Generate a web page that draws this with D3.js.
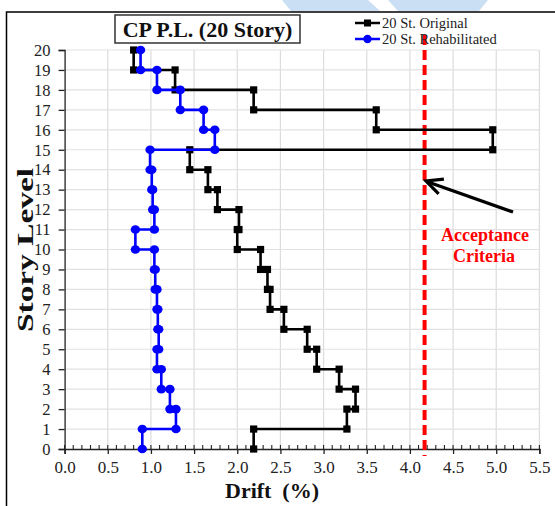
<!DOCTYPE html>
<html>
<head>
<meta charset="utf-8">
<script src="https://cdn.jsdelivr.net/npm/d3@7"></script>
<style>
  html, body { margin: 0; padding: 0; background: #fff; }
  svg { display: block; }
  text { font-family: "Liberation Serif", "Times New Roman", serif; }
</style>
</head>
<body>
<svg id="chart" width="555" height="506"></svg>
<script>
// Story numbers (storey drift applies between level-1 and level)
const stories = [20, 19, 18, 17, 16, 15, 14, 13, 12, 11, 10, 9, 8, 7, 6, 5, 4, 3, 2, 1];
// Interstory drift (%) per story, original frame
const originalDrift = [0.80, 1.28, 2.19, 3.61, 4.96, 1.45, 1.66, 1.77, 2.02, 2.00,
                       2.27, 2.35, 2.38, 2.54, 2.81, 2.92, 3.18, 3.37, 3.27, 2.19];
// Interstory drift (%) per story, rehabilitated frame
const rehabDrift = [0.88, 1.07, 1.34, 1.61, 1.74, 0.99, 1.01, 1.02, 1.04, 0.82,
                    1.04, 1.05, 1.07, 1.08, 1.09, 1.07, 1.12, 1.22, 1.29, 0.90];
const acceptanceLimit = 4.17;
const xTicks = [0.0, 0.5, 1.0, 1.5, 2.0, 2.5, 3.0, 3.5, 4.0, 4.5, 5.0, 5.5];
const yTicks = d3.range(0, 21);
const seriesNames = ["20 St. Original", "20 St. Rehabilitated"];

const svg = d3.select("#chart");

// light blue smudges along the top edge of the page
svg.append("path")
  .attr("d", "M282,0 L368,0 L380,11 L291,11 Z M388,0 L488,0 L479,11 L398,11 Z")
  .attr("fill", "#cbdff4");

// outer frame
svg.append("path")
  .attr("d", "M6.5,506 L6.5,12 L555,12")
  .attr("fill", "none").attr("stroke", "#000").attr("stroke-width", 1.5);

const x = d3.scaleLinear().domain([0, 5.5]).range([64.6, 539.4]);
const y = d3.scaleLinear().domain([0, 20]).range([449, 50]);

// gridlines
svg.append("g").selectAll("line.v").data(xTicks.slice(1)).join("line")
  .attr("x1", d => x(d)).attr("x2", d => x(d))
  .attr("y1", y(0)).attr("y2", y(20))
  .attr("stroke", "#dcdcdc").attr("stroke-width", 1.2);
svg.append("g").selectAll("line.h").data(yTicks.slice(1)).join("line")
  .attr("x1", x(0)).attr("x2", x(5.5))
  .attr("y1", d => y(d)).attr("y2", d => y(d))
  .attr("stroke", "#e2e2e2").attr("stroke-width", 1.2);

// y axis
const yAxis = svg.append("g").attr("transform", `translate(${x(0)},0)`)
  .call(d3.axisLeft(y).tickValues(yTicks).tickSize(6).tickPadding(8).tickFormat(d3.format("d")));
yAxis.select(".domain").attr("stroke", "#222").attr("stroke-width", 1.3);
yAxis.selectAll(".tick line").attr("stroke", "#222").attr("stroke-width", 1.3);
yAxis.selectAll("text").attr("font-size", 16.5).attr("fill", "#222")
  .style("font-family", "'Liberation Serif', serif");

// x axis: minor ticks inward every 0.1, major ticks outward every 0.5
const minor = d3.range(0, 56).map(i => i / 10);
svg.append("g").selectAll("line").data(minor).join("line")
  .attr("x1", d => x(d)).attr("x2", d => x(d))
  .attr("y1", y(0)).attr("y2", y(0) - 4)
  .attr("stroke", "#222").attr("stroke-width", 1.1);
const xAxis = svg.append("g").attr("transform", `translate(0,${y(0)})`)
  .call(d3.axisBottom(x).tickValues(xTicks).tickSize(5).tickPadding(7).tickFormat(d3.format(".1f")));
xAxis.select(".domain").attr("stroke", "#222").attr("stroke-width", 1.5);
xAxis.selectAll(".tick line").attr("stroke", "#222").attr("stroke-width", 1.3);
xAxis.selectAll("text").attr("font-size", 17).attr("fill", "#222")
  .style("font-family", "'Liberation Serif', serif");

// step profile points: each story's drift spans from its level down to the level below
function profile(drifts) {
  const pts = [];
  stories.forEach((s, i) => { pts.push([drifts[i], s]); pts.push([drifts[i], s - 1]); });
  return pts;
}
const line = d3.line().x(d => x(d[0])).y(d => y(d[1]));

// acceptance criteria
svg.append("line")
  .attr("x1", x(acceptanceLimit)).attr("x2", x(acceptanceLimit))
  .attr("y1", 35).attr("y2", 456)
  .attr("stroke", "#ff0000").attr("stroke-width", 4)
  .attr("stroke-dasharray", "10,5");

const orig = profile(originalDrift);
const rehab = profile(rehabDrift);

svg.append("path").datum(orig).attr("d", line)
  .attr("fill", "none").attr("stroke", "#000").attr("stroke-width", 2.6);
svg.append("g").selectAll("rect").data(orig).join("rect")
  .attr("x", d => x(d[0]) - 3.6).attr("y", d => y(d[1]) - 3.6)
  .attr("width", 7.2).attr("height", 7.2).attr("fill", "#000");

svg.append("path").datum(rehab).attr("d", line)
  .attr("fill", "none").attr("stroke", "#0000ff").attr("stroke-width", 2.6);
svg.append("g").selectAll("ellipse").data(rehab).join("ellipse")
  .attr("cx", d => x(d[0])).attr("cy", d => y(d[1]))
  .attr("rx", 4.7).attr("ry", 4.3).attr("fill", "#0000ff");

// title box
svg.append("rect").attr("x", 115).attr("y", 15).attr("width", 185).attr("height", 28)
  .attr("fill", "#fff").attr("stroke", "#333").attr("stroke-width", 1.5);
svg.append("text").attr("x", 207.5).attr("y", 37).attr("text-anchor", "middle")
  .attr("font-size", 22).attr("font-weight", "bold").attr("fill", "#111")
  .text("CP P.L. (20 Story)");

// legend
const legend = svg.append("g");
[["#000", "square"], ["#0000ff", "circle"]].forEach(([c, m], i) => {
  const ly = 23 + i * 16;
  legend.append("line").attr("x1", 355).attr("x2", 380).attr("y1", ly).attr("y2", ly)
    .attr("stroke", c).attr("stroke-width", 2.5);
  if (m === "square") {
    legend.append("rect").attr("x", 364).attr("y", ly - 3.5).attr("width", 7).attr("height", 7).attr("fill", c);
  } else {
    legend.append("circle").attr("cx", 367.5).attr("cy", ly).attr("r", 4.2).attr("fill", c);
  }
  legend.append("text").attr("x", 382).attr("y", ly + 5)
    .attr("font-size", 14.5).attr("fill", "#222").text(seriesNames[i]);
});

// arrow pointing at the acceptance line
const ax1 = 513, ay1 = 212, ax2 = 426, ay2 = 181;
svg.append("line").attr("x1", ax1).attr("y1", ay1).attr("x2", ax2 + 2).attr("y2", ay2 + 1)
  .attr("stroke", "#000").attr("stroke-width", 3.2);
const ang = Math.atan2(ay1 - ay2, ax1 - ax2);
const hl = 18, spread = 0.45;
svg.append("path")
  .attr("d", `M${ax2 + hl * Math.cos(ang - spread)},${ay2 + hl * Math.sin(ang - spread)} L${ax2},${ay2} L${ax2 + hl * Math.cos(ang + spread)},${ay2 + hl * Math.sin(ang + spread)}`)
  .attr("fill", "none").attr("stroke", "#000").attr("stroke-width", 3.2)
  .attr("stroke-linejoin", "miter");

svg.append("text").attr("x", 485).attr("y", 241).attr("text-anchor", "middle")
  .attr("font-size", 18).attr("font-weight", "bold").attr("fill", "#ff0000").text("Acceptance");
svg.append("text").attr("x", 484).attr("y", 262).attr("text-anchor", "middle")
  .attr("font-size", 18).attr("font-weight", "bold").attr("fill", "#ff0000").text("Criteria");

// axis titles
svg.append("text").attr("x", 272).attr("y", 498).attr("text-anchor", "middle")
  .attr("font-size", 21).attr("font-weight", "bold").attr("fill", "#111")
  .attr("xml:space", "preserve").attr("textLength", 94).attr("lengthAdjust", "spacingAndGlyphs")
  .text("Drift  (%)");
svg.append("text").attr("transform", "translate(33,250) rotate(-90)").attr("text-anchor", "middle")
  .attr("font-size", 24).attr("font-weight", "bold").attr("fill", "#111")
  .attr("textLength", 164).attr("lengthAdjust", "spacingAndGlyphs")
  .text("Story Level");
</script>
</body>
</html>
